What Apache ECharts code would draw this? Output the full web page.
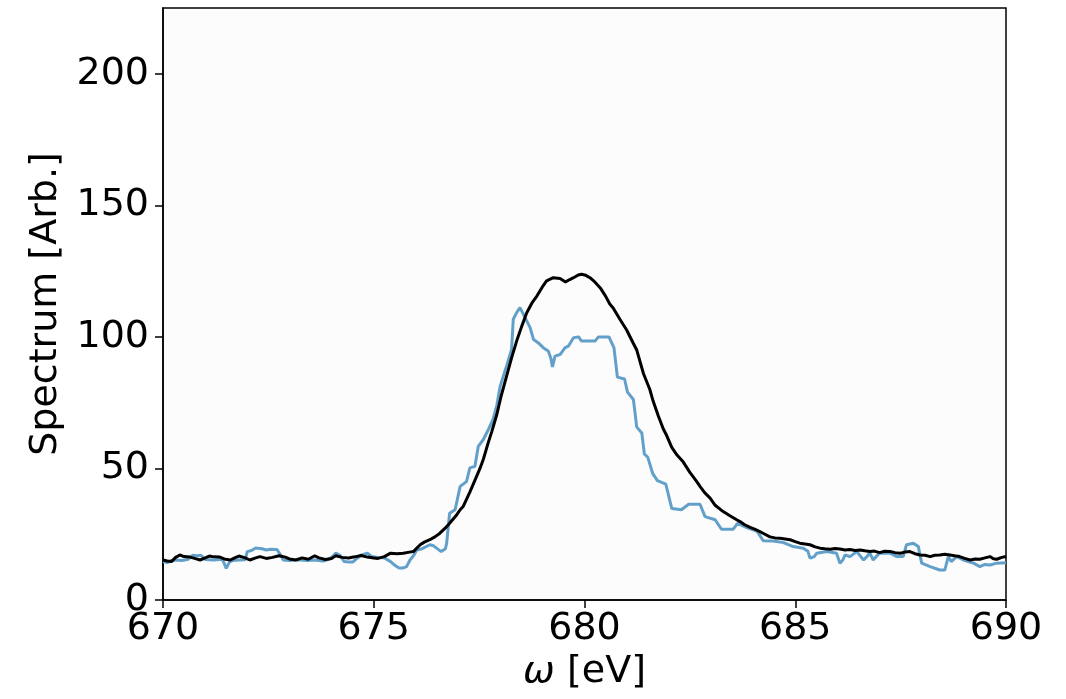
<!DOCTYPE html>
<html>
<head>
<meta charset="utf-8">
<script src="https://cdn.jsdelivr.net/npm/echarts@6/dist/echarts.min.js"></script>
<style>
html,body{margin:0;padding:0;background:#fff;}
#chart{width:1066px;height:699px;}
</style>
</head>
<body>
<div id="chart"></div>
<script>
// x ticks and y ticks
const xTicks = [670, 675, 680, 685, 690];
const yTicks = [0, 50, 100, 150, 200];

// Black (smooth) spectrum
const blackX = [670.0,670.1,670.2,670.3,670.4,670.5,670.64,670.75,670.88,671.0,671.1,671.2,671.35,671.45,671.6,671.7,671.8,671.95,672.06,672.2,672.3,672.45,672.6,672.75,672.9,673.0,673.15,673.3,673.45,673.6,673.7,673.85,674.0,674.1,674.25,674.4,674.55,674.7,674.85,675.0,675.1,675.25,675.4,675.55,675.7,675.85,675.94,676.1,676.2,676.33,676.45,676.57,676.7,676.8,676.95,677.05,677.12,677.28,677.44,677.52,677.6,677.72,677.8,677.92,678.03,678.15,678.27,678.39,678.51,678.63,678.75,678.87,679.0,679.1,679.26,679.42,679.55,679.65,679.74,679.85,679.93,680.03,680.13,680.25,680.37,680.5,680.6,680.68,680.84,681.0,681.16,681.24,681.4,681.55,681.63,681.75,681.87,681.95,682.07,682.2,682.34,682.5,682.66,682.74,682.85,682.98,683.1,683.29,683.45,683.61,683.69,683.8,683.93,684.05,684.16,684.28,684.4,684.52,684.64,684.76,684.88,685.0,685.11,685.23,685.35,685.47,685.59,685.7,685.83,685.95,686.06,686.18,686.3,686.42,686.54,686.65,686.77,686.88,687.0,687.12,687.25,687.37,687.49,687.6,687.72,687.84,687.96,688.08,688.2,688.31,688.43,688.55,688.67,688.78,688.9,689.02,689.15,689.27,689.38,689.5,689.62,689.7,689.78,689.9,690.0];
const blackY = [15.2,14.8,14.6,16.2,17.1,16.5,16.3,15.8,15.2,16.0,16.7,16.4,16.3,15.6,15.2,16.0,16.7,16.0,15.2,16.0,16.5,15.8,16.2,16.8,16.3,15.6,15.2,16.0,15.5,16.8,16.0,15.4,15.8,16.8,16.2,16.0,16.4,16.9,16.3,16.0,15.8,16.5,17.8,17.6,17.8,18.2,18.4,21.0,22.0,22.9,24.0,25.4,27.4,29.2,32.0,34.3,35.5,41.0,47.0,50.0,53.5,60.0,64.0,70.5,78.0,85.0,92.0,98.4,104.0,109.2,112.8,115.5,119.0,121.3,122.5,122.2,120.9,121.8,122.5,123.5,123.8,123.4,122.5,120.8,118.7,115.5,112.5,111.0,106.7,102.6,97.5,95.0,86.0,80.0,75.5,70.0,65.0,62.5,58.0,55.0,52.5,48.5,45.1,43.2,40.8,38.7,36.0,33.6,32.0,30.5,29.8,28.6,27.6,26.8,26.0,25.0,24.0,23.6,23.5,23.2,22.9,22.2,21.6,21.3,21.0,20.2,19.7,19.5,19.3,19.6,19.4,19.0,19.2,18.8,19.0,18.7,18.4,18.6,18.0,18.5,18.4,18.0,17.8,18.2,18.4,17.6,17.1,17.0,16.5,17.0,17.1,17.4,17.1,16.8,16.5,15.8,15.2,15.6,15.5,16.0,16.5,15.7,15.5,16.2,16.5];

// Blue (noisy, step-like) spectrum
const blueX = [670.0,670.1,670.2,670.3,670.45,670.6,670.7,670.8,670.9,671.0,671.2,671.4,671.45,671.5,671.58,671.65,671.8,671.95,672.0,672.1,672.2,672.35,672.45,672.55,672.7,672.8,672.85,673.0,673.2,673.4,673.6,673.8,673.95,674.05,674.1,674.2,674.3,674.4,674.5,674.6,674.7,674.85,674.95,675.1,675.25,675.4,675.5,675.6,675.7,675.78,675.86,675.95,676.02,676.15,676.33,676.42,676.49,676.6,676.7,676.73,676.8,676.93,677.05,677.2,677.28,677.4,677.48,677.6,677.72,677.83,677.92,678.0,678.15,678.27,678.31,678.39,678.47,678.59,678.71,678.79,678.9,679.02,679.14,679.2,679.24,679.3,679.42,679.54,679.62,679.74,679.86,679.93,680.25,680.33,680.58,680.7,680.78,680.95,681.02,681.16,681.24,681.36,681.42,681.5,681.62,681.73,681.93,682.07,682.3,682.47,682.74,682.86,683.1,683.25,683.53,683.63,683.85,684.0,684.1,684.24,684.48,684.72,684.95,685.19,685.3,685.35,685.45,685.51,685.75,685.98,686.06,686.12,686.18,686.3,686.46,686.62,686.7,686.77,686.85,686.92,687.0,687.25,687.41,687.56,687.64,687.8,687.92,688.0,688.2,688.43,688.55,688.63,688.7,688.83,688.99,689.1,689.23,689.38,689.5,689.62,689.78,690.0];
const blueY = [14.6,14.2,15.0,15.2,15.0,15.5,17.0,16.8,17.0,15.4,15.2,15.5,14.0,12.0,14.5,15.0,15.2,15.3,18.4,18.8,19.8,19.5,19.0,19.3,19.2,17.0,15.2,15.0,15.3,15.0,15.2,14.8,15.6,17.0,17.8,17.0,14.6,14.4,14.4,15.8,17.0,17.8,16.5,16.2,16.0,14.6,13.2,12.2,12.2,12.7,15.2,17.0,19.0,19.5,21.0,20.6,19.7,18.4,19.5,21.6,33.0,34.3,43.2,45.0,50.2,50.8,58.4,61.0,64.8,68.6,74.0,81.3,88.9,95.2,106.7,109.2,111.1,107.3,103.5,99.0,97.8,95.9,94.6,92.0,88.6,92.7,93.3,95.9,96.5,99.7,100.0,98.4,98.4,100.0,100.0,95.8,84.7,84.0,79.0,76.2,65.7,63.5,55.5,54.3,48.0,45.4,44.0,34.8,34.3,36.4,36.4,31.7,30.5,26.9,26.9,29.1,27.5,26.7,26.0,22.5,22.4,21.8,20.3,19.7,18.5,15.9,16.5,17.8,18.4,17.8,14.0,15.0,17.1,16.5,18.4,15.2,16.5,17.8,15.2,16.5,17.8,17.8,16.5,16.5,21.0,21.6,20.3,14.0,12.7,11.4,11.4,16.5,14.6,16.5,15.2,14.6,14.0,12.7,13.5,13.3,14.0,14.2];

const pair = (xs, ys) => xs.map((x, i) => [x, ys[i]]);
const FONT = '"DejaVu Sans", sans-serif';

const chart = echarts.init(document.getElementById('chart'), null, {renderer: 'canvas'});
chart.setOption({
  animation: false,
  backgroundColor: '#ffffff',
  grid: {
    left: 163, top: 8, right: 60, bottom: 99,
    show: true, borderColor: '#000', borderWidth: 1.5, backgroundColor: '#fcfcfc'
  },
  xAxis: {
    type: 'value', min: 670, max: 690, interval: 5,
    name: '{i|ω} [eV]',
    nameLocation: 'middle', nameGap: 52,
    nameTextStyle: {
      fontFamily: FONT, fontSize: 38, color: '#000',
      rich: { i: { fontFamily: FONT, fontSize: 38, fontStyle: 'italic', color: '#000' } }
    },
    axisLine: { show: true, lineStyle: { color: '#000', width: 1.5 } },
    axisTick: { show: true, inside: false, length: 8, lineStyle: { color: '#000', width: 1.5 }, customValues: xTicks },
    axisLabel: { fontFamily: FONT, fontSize: 38, color: '#000', margin: 10, customValues: xTicks },
    splitLine: { show: false }
  },
  yAxis: {
    type: 'value', min: 0, max: 225, interval: 50,
    name: 'Spectrum [Arb.]',
    nameLocation: 'middle', nameGap: 98, nameRotate: 90,
    nameTextStyle: { fontFamily: FONT, fontSize: 38, color: '#000' },
    axisLine: { show: true, lineStyle: { color: '#000', width: 1.5 } },
    axisTick: { show: true, inside: false, length: 8, lineStyle: { color: '#000', width: 1.5 }, customValues: yTicks },
    axisLabel: { fontFamily: FONT, fontSize: 38, color: '#000', margin: 14, customValues: yTicks },
    splitLine: { show: false }
  },
  series: [
    {
      type: 'line', name: 'blue', data: pair(blueX, blueY),
      showSymbol: false, symbol: 'none',
      lineStyle: { color: '#62a0ca', width: 3 }, z: 2
    },
    {
      type: 'line', name: 'black', data: pair(blackX, blackY),
      showSymbol: false, symbol: 'none',
      lineStyle: { color: '#000000', width: 3 }, z: 3
    }
  ]
});
</script>
</body>
</html>
